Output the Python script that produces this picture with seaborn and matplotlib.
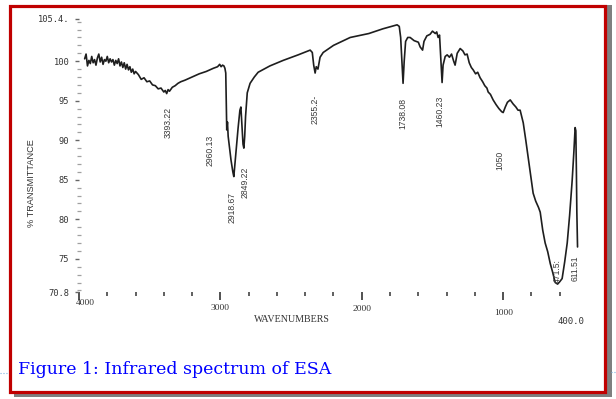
import matplotlib
matplotlib.use("Agg")
import matplotlib.pyplot as plt
import seaborn as sns
from matplotlib.patches import Rectangle
from matplotlib.lines import Line2D

# IR spectrum (cm-1, % transmittance)
wavenumber = [
    3960, 3950, 3940, 3930, 3920, 3910, 3900, 3890, 3880, 3870,
    3860, 3850, 3840, 3830, 3820, 3810, 3800, 3790, 3780, 3770,
    3760, 3750, 3740, 3730, 3720, 3710, 3700, 3690, 3680, 3670,
    3660, 3650, 3640, 3630, 3620, 3610, 3600,
    3580, 3560, 3540, 3520, 3500, 3480, 3460, 3440, 3420, 3400,
    3390, 3380, 3370, 3360, 3340, 3320, 3300, 3280, 3250, 3200,
    3150, 3100, 3050, 3020, 3005, 2995, 2985, 2975, 2968, 2962,
    2958, 2955, 2950, 2945, 2935, 2925, 2912, 2905, 2890, 2875,
    2862, 2855, 2848, 2840, 2834, 2828, 2822, 2810, 2790, 2760,
    2733, 2650, 2556, 2450, 2365, 2350, 2340, 2330, 2322, 2310,
    2295, 2273, 2200, 2082, 1950, 1850, 1750, 1735, 1725, 1715,
    1708, 1700, 1690, 1675, 1658, 1630, 1600, 1587, 1570, 1560,
    1540, 1517, 1500, 1480, 1470, 1460, 1450, 1440, 1432, 1425,
    1410, 1396, 1380, 1365, 1350, 1340, 1325, 1304, 1285, 1270,
    1255, 1240, 1225, 1212, 1195, 1180, 1163, 1145, 1130, 1115,
    1106, 1090, 1071, 1050, 1030, 1010, 1000, 985, 970, 950,
    930, 910, 895, 880, 858, 840, 823, 805, 788, 770,
    750, 738, 720, 703, 685, 667, 650, 632, 615, 600,
    583, 565, 547, 530, 512, 500, 491, 486, 482, 479,
    476, 474,
]
transmittance = [
    100.3, 100.9, 99.4, 100.1, 99.7, 100.6, 99.8, 100.2, 99.5, 100.4,
    100.9, 99.9, 100.5, 99.6, 100.2, 100.0, 100.6, 99.8, 100.3, 99.9,
    100.2, 99.5, 100.1, 99.7, 100.3, 99.4, 99.9, 99.2, 99.8, 99.0,
    99.6, 98.9, 99.3, 98.6, 99.0, 98.4, 98.7,
    98.3, 97.7, 97.9, 97.4, 97.5, 97.0, 96.9, 96.5, 96.6, 96.1,
    96.3, 95.9, 96.4, 96.2, 96.7, 96.9, 97.2, 97.4, 97.6, 98.0,
    98.4, 98.7, 99.1, 99.3, 99.6, 99.3, 99.5, 99.4, 99.1, 98.5,
    94.5, 91.3, 92.3, 90.5, 89.0, 87.5, 86.0, 85.4, 88.5, 91.5,
    93.8, 94.2, 92.0, 89.5, 89.0, 90.5, 93.0, 96.0, 97.2, 98.0,
    98.6, 99.4, 100.1, 100.8, 101.4, 101.1, 99.5, 98.5, 99.3, 99.0,
    100.5, 101.1, 102.0, 103.0, 103.5, 104.1, 104.6, 104.4, 103.0, 99.5,
    97.2, 100.0, 102.5, 103.0, 103.0, 102.6, 102.4, 101.8, 101.4, 102.5,
    103.2, 103.4, 103.8, 103.5, 103.7, 103.0, 103.3, 100.0, 97.3, 99.5,
    100.6, 100.8, 100.5, 100.9, 100.0, 99.5, 101.0, 101.6, 101.3, 100.8,
    100.9, 99.8, 99.2, 98.9, 98.4, 98.6, 97.9, 97.4, 96.9, 96.6,
    96.1, 95.8, 95.1, 94.5, 94.0, 93.6, 93.5, 94.2, 94.8, 95.1,
    94.6, 94.2, 93.8, 93.8, 92.2, 90.0, 87.8, 85.5, 83.3, 82.3,
    81.5, 80.9, 78.6, 77.0, 75.9, 74.4, 73.3, 72.0, 71.8, 72.1,
    72.5, 74.6, 77.0, 80.5, 84.9, 88.5, 91.6, 91.2, 86.0, 81.0,
    78.0, 76.5,
]

# peak annotations: text, position of the label centre
peak_text = ["3393.22", "2960.13", "2918.67", "2849.22", "2355.2-",
             "1738.08", "1460.23", "1050", "611.51", "471.5:"]
peak_x = [3371, 3074, 2918, 2826, 2331, 1708, 1447, 1022, 492, 619]
peak_y = [92.3, 88.7, 81.5, 84.7, 93.9, 93.4, 93.7, 87.5, 73.8, 73.4]

y_major = [105.4, 100, 95, 90, 85, 80, 75, 70.8]
y_major_lbl = ["105.4.", "100", "95", "90", "85", "80", "75", "70.8"]
x_major = [4000, 3000, 2000, 1000]
x_major_lbl = ["4000", "3000", "2000", "1000"]
x_minor = [3800, 3600, 3400, 3200, 2800, 2600, 2400, 2200, 1800, 1600,
           1400, 1200, 800, 600]

sns.set_style("white")
plt.rcParams['font.family'] = ['DejaVu Sans']

fig = plt.figure(figsize=(6.16, 3.99), dpi=100)
W, H = 616, 399

def fx(px):
    return px / W

def fy(py):
    return 1 - py / H

# frame with drop shadow (behind the axes)
fig.patches.append(Rectangle((fx(14), fy(397)), fx(598), (392 / H),
                             transform=fig.transFigure, facecolor='#7f7f7f',
                             edgecolor='none', zorder=-3))
fig.patches.append(Rectangle((fx(9.5), fy(391.5)), fx(595), (386 / H),
                             transform=fig.transFigure, facecolor='white',
                             edgecolor='#c00000', linewidth=2.3, zorder=-2))
fig.lines.append(Line2D([0, fx(8)], [fy(373), fy(373)], transform=fig.transFigure,
                        color='#7fb2e0', lw=0.8, ls=':'))
fig.lines.append(Line2D([fx(611), 1], [fy(372), fy(372)], transform=fig.transFigure,
                        color='#7fb2e0', lw=0.8, ls=':'))

ax = fig.add_axes([fx(79), fy(292), (588 - 79) / W, (292 - 18.5) / H])
ax.set_facecolor('none')
ax.patch.set_alpha(0)

sns.lineplot(x=wavenumber, y=transmittance, ax=ax, estimator=None, sort=False,
             color='#1e1e1e', linewidth=1.2)

ax.set_xlim(4000, 400)
ax.set_ylim(70.8, 105.4)
for s in ax.spines.values():
    s.set_visible(False)

# y axis: dotted column of small ticks, labelled majors
ax.set_yticks(y_major)
ax.set_yticklabels(y_major_lbl, family='DejaVu Sans Mono', fontsize=6.3, color='#333333')
ax.set_yticks(list(range(71, 106)), minor=True)
ax.tick_params(axis='y', which='major', left=True, direction='out', length=3, width=1.0,
               color='#666666', pad=4)
ax.tick_params(axis='y', which='minor', left=True, direction='inout', length=3, width=0.9,
               color='#a0a0a0')

# x axis: short marks, labels placed like the scan
ax.set_xticks(x_major)
ax.set_xticklabels([])
ax.set_xticks(x_minor, minor=True)
ax.tick_params(axis='x', which='major', bottom=True, direction='out', length=6, width=1.2,
               color='#333333', pad=2)
ax.tick_params(axis='x', which='minor', bottom=True, direction='out', length=3, width=1.2,
               color='#444444')

lbl_offsets = [-11, -16, -17, -21]
for xv, txt, dy in zip(x_major, x_major_lbl, lbl_offsets):
    ax.annotate(txt, (xv, 70.8), xytext=(0 if xv != 4000 else 6.5, dy),
                textcoords='offset pixels', ha='center', va='center',
                family='Liberation Serif', fontsize=6.8, color='#333333')
ax.annotate("400.0", (520, 70.8), xytext=(0, -29), textcoords='offset pixels',
            ha='center', va='center', family='DejaVu Sans Mono', fontsize=6.5,
            color='#333333')

for t, xv, yv in zip(peak_text, peak_x, peak_y):
    ax.text(xv, yv, t, rotation=90, ha='center', va='center',
            family='Liberation Sans', fontsize=6.2, color='#3a3a3a')

fig.text(fx(292), fy(319), "WAVENUMBERS", ha='center', va='center',
         family='Liberation Serif', fontsize=7.2, color='#333333')
fig.text(fx(32), fy(183), "% TRANSMITTANCE", rotation=90, ha='center', va='center',
         family='Liberation Sans', fontsize=6.6, color='#333333')

fig.text(fx(18), fy(370), "Figure 1: Infrared spectrum of ESA", ha='left', va='center',
         family='DejaVu Serif', fontsize=12.5, color='#0000ff')

plt.savefig("out.png", dpi=100, facecolor='white')
